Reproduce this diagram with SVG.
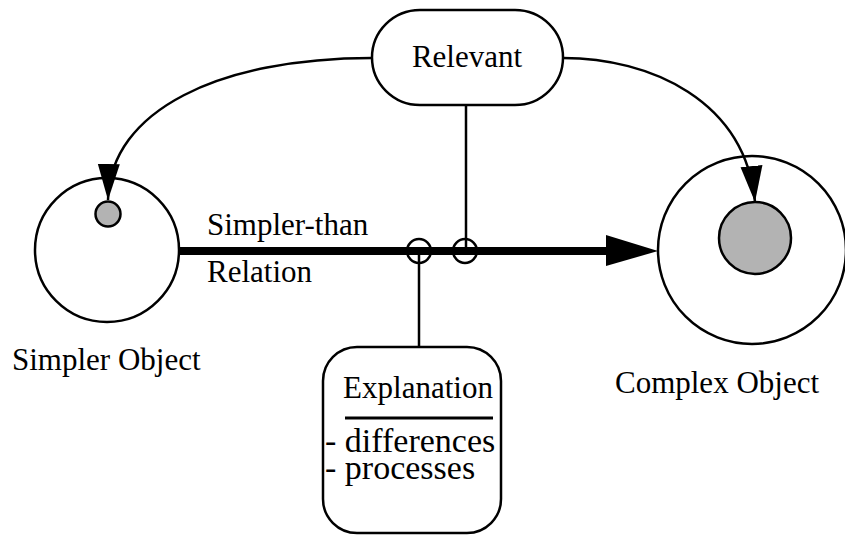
<svg xmlns="http://www.w3.org/2000/svg" width="845" height="537" viewBox="0 0 845 537">
<style>
  .ln{fill:none;stroke:#000;stroke-width:2.5}
  .node{fill:#fff;stroke:#000;stroke-width:2.5}
  .dot{fill:#b3b3b3;stroke:#000;stroke-width:2.5}
  text{font-family:"Liberation Serif","Times New Roman",serif;font-size:31px;fill:#000}
  .list{font-size:34px}
</style>
<defs>
  <marker id="ah" markerUnits="userSpaceOnUse" markerWidth="40" markerHeight="24" refX="36" refY="11" orient="auto" viewBox="0 0 40 22">
    <path d="M0,0 L36,11 L0,22 Z" fill="#000"/>
  </marker>
</defs>
<rect width="845" height="537" fill="#fff"/>
<g id="relevant">
  <rect class="node" x="372" y="10" width="191" height="95" rx="48" ry="47.5"/>
  <text x="467" y="67" text-anchor="middle">Relevant</text>
</g>
<g id="simpler-object">
  <circle class="node" cx="107" cy="250" r="72"/>
  <circle class="dot" cx="108" cy="214" r="12.5"/>
  <text x="12" y="370">Simpler Object</text>
</g>
<g id="complex-object">
  <circle class="node" cx="752" cy="250" r="94"/>
  <circle class="dot" cx="755" cy="238" r="36"/>
  <text x="717" y="393" text-anchor="middle">Complex Object</text>
</g>
<g id="explanation">
  <rect class="node" x="323" y="347" width="178" height="186" rx="34" ry="34"/>
  <text x="418" y="398" text-anchor="middle">Explanation</text>
  <line x1="345" y1="418" x2="493" y2="418" stroke="#000" stroke-width="3"/>
  <text class="list" x="325" y="452">- differences<tspan x="325" y="479">- processes</tspan></text>
</g>
<g id="connectors">
  <path class="ln" d="M372,58 C220,58 110,110 108,200" marker-end="url(#ah)"/>
  <path class="ln" d="M563,58 C650,58 745,100 755,202" marker-end="url(#ah)"/>
  <line x1="179" y1="251" x2="608" y2="251" stroke="#000" stroke-width="8"/>
  <path d="M606,235 L658,251 L606,266 Z" fill="#000"/>
  <line class="ln" x1="466" y1="105" x2="466" y2="251"/>
  <line class="ln" x1="419" y1="251" x2="419" y2="347"/>
  <circle class="ln" cx="419" cy="251" r="12"/>
  <circle class="ln" cx="465" cy="251" r="12"/>
  <text x="207" y="235">Simpler-than</text>
  <text x="207" y="282">Relation</text>
</g>
</svg>
